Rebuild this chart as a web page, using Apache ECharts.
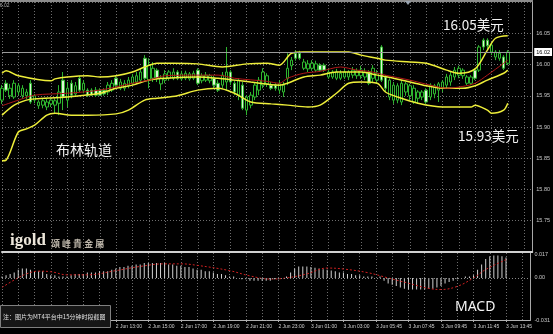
<!DOCTYPE html>
<html><head><meta charset="utf-8">
<script src="https://cdn.jsdelivr.net/npm/echarts@6/dist/echarts.min.js"></script>
<style>html,body{margin:0;padding:0;background:#000}#c{width:553px;height:334px}</style>
</head><body><div id="c"></div>
<script>
// ---- data ----
const slotCount = 131; // 125 bars + right chart shift
const opens = [
15.943,15.970,15.950,15.948,15.956,15.950,15.950,15.970,15.943,15.934,
15.935,15.932,15.937,15.935,15.938,15.975,15.943,15.970,15.953,15.978,
15.959,15.959,15.959,15.959,15.959,15.959,15.956,15.959,15.978,15.962,
15.962,15.966,15.970,15.972,15.975,16.010,15.975,15.978,15.991,15.969,
15.975,15.978,15.978,15.988,15.977,15.978,15.977,15.978,15.991,15.974,
15.975,15.974,15.978,15.970,15.967,15.972,15.988,15.970,15.951,15.967,
15.927,15.935,15.948,15.959,15.967,15.969,15.967,15.967,15.959,15.956,
15.978,15.998,16.018,16.018,15.994,15.993,15.994,15.991,15.999,15.999,
15.980,15.980,15.978,15.978,15.980,15.980,15.983,15.982,15.982,15.980,
15.988,15.978,15.975,16.028,15.980,15.948,15.943,15.943,15.940,15.956,
15.950,15.940,15.946,15.948,15.959,15.948,15.953,15.959,15.962,15.967,
15.972,15.980,15.983,15.982,15.970,15.970,15.991,15.991,16.039,16.039,
16.020,16.012,16.010,16.012,16.002];
const closes = [
15.962,15.959,15.962,15.970,15.966,15.962,15.956,15.940,15.950,15.940,
15.942,15.940,15.943,15.942,15.956,15.948,15.962,15.951,15.966,15.959,
15.970,15.951,15.951,15.951,15.951,15.953,15.967,15.970,15.967,15.972,
15.970,15.975,15.980,15.982,15.988,15.978,15.999,15.994,15.978,15.978,
15.985,15.988,15.988,15.978,15.985,15.986,15.985,15.986,15.970,15.982,
15.983,15.982,15.967,15.959,15.983,15.988,15.972,15.956,15.975,15.930,
15.948,15.951,15.967,15.975,15.988,15.982,15.962,15.962,15.969,15.967,
15.994,16.007,16.010,16.010,16.004,16.001,16.002,16.001,15.991,15.991,
15.988,15.988,15.988,15.986,15.988,15.988,15.991,15.990,15.991,15.988,
15.970,15.994,15.986,15.975,15.962,15.975,15.967,15.966,15.970,15.969,
15.966,15.962,15.956,15.956,15.940,15.967,15.966,15.969,15.972,15.980,
15.983,15.991,15.994,15.991,15.980,15.980,15.978,16.028,16.028,16.030,
16.031,16.020,16.018,15.994,16.020];
const lows = [
15.937,15.956,15.945,15.945,15.951,15.945,15.945,15.937,15.938,15.929,
15.930,15.927,15.932,15.922,15.919,15.927,15.932,15.946,15.950,15.956,
15.954,15.948,15.950,15.948,15.950,15.950,15.951,15.956,15.962,15.959,
15.958,15.962,15.967,15.969,15.970,15.975,15.962,15.972,15.972,15.959,
15.970,15.974,15.975,15.975,15.974,15.975,15.974,15.975,15.967,15.970,
15.972,15.970,15.962,15.956,15.962,15.959,15.967,15.951,15.943,15.927,
15.919,15.930,15.943,15.951,15.962,15.964,15.959,15.958,15.953,15.948,
15.967,15.991,16.006,16.007,15.991,15.988,15.990,15.988,15.988,15.988,
15.977,15.977,15.975,15.975,15.977,15.975,15.978,15.977,15.977,15.975,
15.967,15.972,15.970,15.972,15.956,15.943,15.937,15.938,15.935,15.950,
15.943,15.937,15.937,15.943,15.937,15.943,15.946,15.940,15.956,15.962,
15.966,15.975,15.978,15.977,15.967,15.967,15.975,15.988,16.023,16.023,
16.015,16.007,16.006,15.991,15.999];
const highs = [
15.967,15.975,15.969,15.975,15.970,15.967,15.961,15.975,15.953,15.943,
15.945,15.945,15.946,15.946,15.967,15.988,15.972,15.975,15.972,15.982,
15.975,15.962,15.962,15.964,15.962,15.962,15.972,15.975,15.982,15.977,
15.975,15.980,15.985,15.988,15.994,16.015,16.010,16.004,15.994,15.983,
15.991,15.991,15.994,15.991,15.990,15.990,15.988,15.990,15.994,15.986,
15.988,15.985,15.982,15.975,15.988,16.028,15.991,15.975,15.978,15.972,
15.951,15.956,15.972,15.980,15.994,15.986,15.972,15.970,15.975,15.972,
16.018,16.012,16.023,16.022,16.009,16.007,16.007,16.006,16.002,16.002,
15.993,15.991,15.993,15.991,15.993,15.991,15.996,15.994,15.998,15.994,
15.991,15.999,15.991,16.031,15.983,15.978,15.972,15.970,15.975,15.972,
15.969,15.967,15.959,15.959,15.962,15.970,15.969,15.972,15.975,15.985,
15.988,15.996,15.998,15.994,15.983,15.983,15.994,16.031,16.042,16.042,
16.036,16.023,16.023,16.015,16.023];

// Bollinger bands and moving average: [bar index, price]
const upperBand = [[0,15.986],[1,15.990],[4,15.982],[12,15.974],[13,15.977],[16,15.980],[21,15.982],[24,15.980],[28,15.982],[32,15.988],[35,15.996],[38,16.002],[42,16.002],[48,16.001],[54,15.996],[60,16.001],[65,16.002],[68,15.999],[71,16.018],[74,16.020],[85,16.020],[88,16.015],[92,16.010],[94,16.007],[100,16.004],[104,16.002],[109,15.991],[112,15.986],[116,15.993],[119,16.023],[121,16.042],[124,16.046]];
const middleBand = [[0,15.919],[3,15.935],[6,15.943],[8,15.945],[16,15.948],[24,15.954],[28,15.962],[32,15.967],[36,15.975],[40,15.978],[48,15.980],[53,15.978],[57,15.975],[61,15.972],[68,15.967],[70,15.970],[74,15.980],[78,15.983],[82,15.988],[88,15.988],[92,15.983],[96,15.978],[100,15.972],[104,15.966],[108,15.962],[113,15.962],[116,15.966],[119,15.975],[123,15.986],[124,15.991]];
const lowerBand = [[0,15.846],[1,15.847],[4,15.892],[6,15.897],[8,15.903],[11,15.919],[13,15.922],[17,15.919],[21,15.919],[28,15.921],[31,15.927],[35,15.943],[38,15.946],[43,15.950],[48,15.959],[53,15.962],[57,15.954],[61,15.940],[66,15.937],[70,15.935],[75,15.932],[78,15.935],[82,15.954],[85,15.970],[88,15.972],[92,15.970],[94,15.956],[97,15.948],[102,15.938],[108,15.932],[115,15.932],[116,15.935],[119,15.927],[120,15.922],[123,15.927],[124,15.938]];
const redMA = [[0,15.934],[4,15.943],[8,15.951],[16,15.954],[24,15.959],[32,15.970],[36,15.975],[40,15.982],[48,15.983],[53,15.983],[57,15.978],[65,15.973],[68,15.970],[70,15.978],[74,15.986],[78,15.989],[83,15.996],[87,15.991],[90,15.989],[94,15.983],[100,15.975],[105,15.967],[109,15.962],[113,15.965],[116,15.970],[119,15.983],[123,16.002],[124,16.007]];

const macdHist = [
0.001,0.002,0.003,0.004,0.006,0.007,0.007,0.006,0.005,0.005,
0.005,0.003,0.002,0.002,0.001,0.001,0.001,0.002,0.003,0.003,
0.003,0.004,0.004,0.004,0.005,0.005,0.005,0.006,0.007,0.008,
0.008,0.009,0.009,0.010,0.010,0.011,0.011,0.011,0.011,0.011,
0.011,0.010,0.010,0.009,0.009,0.008,0.008,0.007,0.006,0.006,
0.005,0.005,0.004,0.003,0.003,0.002,0.001,0.001,0.000,-0.001,
-0.001,-0.002,-0.002,-0.002,-0.002,-0.002,-0.002,-0.001,-0.001,0.000,
0.001,0.004,0.007,0.0085,0.0085,0.0085,0.008,0.0075,0.007,0.0065,
0.006,0.0055,0.005,0.004,0.004,0.003,0.003,0.002,0.002,0.001,
0.001,0.001,0.000,0.001,-0.002,-0.004,-0.005,-0.006,-0.007,-0.008,
-0.0085,-0.0085,-0.0085,-0.0085,-0.0085,-0.008,-0.008,-0.007,-0.006,-0.004,
-0.003,-0.002,-0.001,0.000,0.001,0.001,0.002,0.006,0.010,0.014,
0.016,0.0165,0.0165,0.016,0.015];
const macdSignal = [[0,-0.007],[3,-0.0015],[6,0.003],[9,0.005],[12,0.0046],[16,0.0023],[21,0.0023],[28,0.0054],[34,0.0085],[40,0.0104],[44,0.0104],[48,0.0093],[56,0.0054],[61,0.0015],[66,-0.0008],[70,0.0],[75,0.003],[80,0.0073],[84,0.0066],[90,0.0039],[95,0.0],[100,-0.0039],[105,-0.0077],[108,-0.0085],[112,-0.0062],[116,0.0],[119,0.0062],[124,0.0135]];

const timeTicks = [[4,'2 Jun 07:00'],[12,'2 Jun 09:00'],[20,'2 Jun 11:00'],[28,'2 Jun 13:00'],[36,'2 Jun 15:00'],[44,'2 Jun 17:00'],[52,'2 Jun 19:00'],[60,'2 Jun 21:00'],[68,'2 Jun 23:00'],[76,'3 Jun 01:00'],[84,'3 Jun 03:00'],[92,'3 Jun 05:45'],[100,'3 Jun 07:45'],[108,'3 Jun 09:45'],[116,'3 Jun 11:45'],[124,'3 Jun 13:45']];
const macdTicks = [0.017, 0, -0.031];
const lastPrice = 16.02;

// ---- build ----
const categories = [];
for (let i = 0; i < slotCount; i++) categories.push(String(i));
const tickMap = {};
timeTicks.forEach(t => { tickMap[t[0]] = t[1]; });
const candles = opens.map((o, i) => [o, closes[i], lows[i], highs[i]]);

const gridLine = { color: '#6e6e6e', type: [1, 2], width: 1 };
const cjk = '"Noto Sans CJK SC", sans-serif';
const bandStyle = { color: '#eeee3a', width: 1.5 };
const smallFont = 'Liberation Sans';

const chart = echarts.init(document.getElementById('c'), null, { renderer: 'canvas' });
chart.setOption({
  backgroundColor: '#000',
  animation: false,
  grid: [
    { left: 2, top: 2, width: 531, height: 250 },
    { left: 2, top: 253, width: 531, height: 67 }
  ],
  xAxis: [
    { type: 'category', gridIndex: 0, data: categories, boundaryGap: false,
      axisLine: { show: true, onZero: false, lineStyle: { color: '#d0d0d0', width: 2 } },
      axisTick: { show: false }, axisLabel: { show: false },
      splitLine: { show: true, interval: (i) => i % 4 === 0, lineStyle: gridLine } },
    { type: 'category', gridIndex: 1, data: categories, boundaryGap: false,
      axisLine: { show: true, onZero: false, lineStyle: { color: '#b0b0b0', width: 1 } },
      axisTick: { show: true, interval: (i) => tickMap[i] !== undefined, length: 2, lineStyle: { color: '#b0b0b0' } },
      axisLabel: { show: true, interval: (i) => tickMap[i] !== undefined, formatter: (v, i) => tickMap[i] || '',
        align: 'left', fontSize: 5, color: '#d0d0d0', margin: 4, fontFamily: smallFont },
      splitLine: { show: true, interval: (i) => i % 4 === 0, lineStyle: gridLine } }
  ],
  yAxis: [
    { type: 'value', gridIndex: 0, position: 'right', min: 15.70, max: 16.10, interval: 0.05, scale: true,
      axisLine: { show: true, lineStyle: { color: '#a8a8a8' } }, axisTick: { show: false },
      axisLabel: { fontSize: 5.5, color: '#c8c8c8', margin: 4, fontFamily: smallFont,
        formatter: (v) => (v < 15.72 || v > 16.08) ? '' : v.toFixed(2) },
      splitLine: { show: true, lineStyle: gridLine } },
    { type: 'value', gridIndex: 1, position: 'right', min: -0.031, max: 0.0184,
      axisLine: { show: true, lineStyle: { color: '#a8a8a8' } }, axisTick: { show: false },
      axisLabel: { customValues: macdTicks, fontSize: 5.5, color: '#c8c8c8', margin: 4, fontFamily: smallFont,
        formatter: (v) => v === 0 ? '0.00' : v.toFixed(3) },
      splitLine: { show: false } }
  ],
  series: [
    { type: 'candlestick', xAxisIndex: 0, yAxisIndex: 0, data: candles, barWidth: 3,
      itemStyle: { color: '#000', color0: '#dff5d6', borderColor: '#2fb52f', borderColor0: '#2fb52f', borderWidth: 1 },
      markLine: { silent: true, symbol: 'none', animation: false,
        data: [{ yAxis: lastPrice }],
        lineStyle: { color: '#9a9a9a', type: 'solid', width: 1 },
        label: { show: true, position: 'end', formatter: lastPrice.toFixed(2), backgroundColor: '#fff', color: '#000',
          fontSize: 5.5, padding: [1, 2], distance: 2, fontFamily: smallFont } } },
    { type: 'line', xAxisIndex: 0, yAxisIndex: 0, data: upperBand, showSymbol: false, smooth: 0.3, lineStyle: bandStyle },
    { type: 'line', xAxisIndex: 0, yAxisIndex: 0, data: middleBand, showSymbol: false, smooth: 0.3, lineStyle: bandStyle },
    { type: 'line', xAxisIndex: 0, yAxisIndex: 0, data: lowerBand, showSymbol: false, smooth: 0.3, lineStyle: bandStyle },
    { type: 'line', xAxisIndex: 0, yAxisIndex: 0, data: redMA, showSymbol: false, smooth: 0.3, lineStyle: { color: '#b01818', width: 1 } },
    { type: 'bar', xAxisIndex: 1, yAxisIndex: 1, data: macdHist, barWidth: 1, itemStyle: { color: '#d0d0d0' },
      markLine: { silent: true, symbol: 'none', data: [{ yAxis: 0 }], label: { show: false },
        lineStyle: { color: '#8a8a8a', type: [1, 2], width: 1 } } },
    { type: 'line', xAxisIndex: 1, yAxisIndex: 1, data: macdSignal, showSymbol: false, smooth: 0.4,
      lineStyle: { color: '#d02020', type: [2, 2], width: 1 } }
  ],
  graphic: { elements: [
    { type: 'rect', shape: { x: 0, y: 0, width: 533, height: 2 }, style: { fill: '#8c8c8c' }, z: 100 },
    { type: 'polygon', shape: { points: [[405, 1], [411, 1], [408, 5]] }, style: { fill: '#9aa4b0' }, z: 101 },
    { type: 'text', x: -3, y: 6, style: { text: '16.02', fill: '#aaa', font: '5px "Liberation Sans"', verticalAlign: 'middle' }, z: 101 },
    { type: 'text', x: 443, y: 25, style: { text: '16.05美元', fill: '#f4f4f4', font: '13.5px ' + cjk, verticalAlign: 'middle' }, z: 101 },
    { type: 'text', x: 458, y: 136, style: { text: '15.93美元', fill: '#f4f4f4', font: '13.5px ' + cjk, verticalAlign: 'middle' }, z: 101 },
    { type: 'text', x: 56, y: 150, style: { text: '布林轨道', fill: '#f4f4f4', font: '14px ' + cjk, verticalAlign: 'middle' }, z: 101 },
    { type: 'text', x: 455, y: 307.5, style: { text: 'MACD', fill: '#f4f4f4', font: '14px "Noto Sans"', verticalAlign: 'middle' }, z: 101 },
    { type: 'text', x: 10, y: 241, style: { text: 'igold', fill: '#ece6da', font: 'bold 17px "Liberation Serif"', verticalAlign: 'middle' }, z: 101 },
    { type: 'text', x: 51, y: 243.5, style: { text: '頌 峰 貴 金 屬', fill: '#bdb6aa', font: 'bold 9px "Noto Sans CJK TC"', verticalAlign: 'middle' }, z: 101 },
    { type: 'rect', shape: { x: 0.5, y: 305.5, width: 110, height: 22 }, style: { fill: '#161616', stroke: '#808080', lineWidth: 1 }, z: 110 },
    { type: 'text', x: 3, y: 316.5, style: { text: '注：图片为MT4平台中15分钟时段截图', fill: '#e0e0e0', font: '6px ' + cjk, verticalAlign: 'middle' }, z: 111 }
  ] }
});
</script>
</body></html>
